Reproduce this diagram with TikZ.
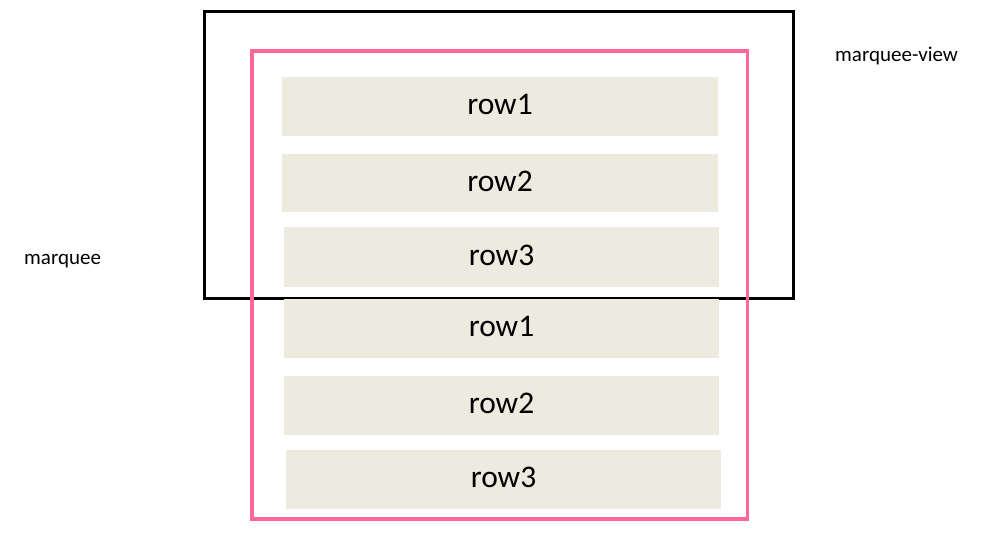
\documentclass[tikz,border=0pt]{standalone}
\usepackage{fontspec}
\setmainfont{Carlito}
\definecolor{rowfill}{HTML}{EDEAE0}
\definecolor{pinkline}{HTML}{FF6699}
\begin{document}
\begin{tikzpicture}[x=1pt,y=-1pt,
  rowtext/.style={inner sep=0pt,font=\fontsize{31.5}{36}\selectfont},
  lbl/.style={inner sep=0pt,font=\fontsize{21}{24}\selectfont,anchor=west}]
\useasboundingbox (0,0) rectangle (981,535);
% black view box
\draw[line width=3.5pt] (204.5,11.5) rectangle (793.5,298.5);
% rows
\fill[rowfill] (282,77) rectangle (718,136);
\node[rowtext] (r1) at (500,104.5) {row1};
\fill[rowfill] (282,154) rectangle (718,212);
\node[rowtext] (r2) at (500,181) {row2};
\fill[rowfill] (284,227) rectangle (719,287);
\node[rowtext] (r3) at (501.5,255) {row3};
\fill[rowfill] (284,299) rectangle (719,358);
\node[rowtext] (r4) at (501.5,326.5) {row1};
\fill[rowfill] (284,376) rectangle (719,435);
\node[rowtext] (r5) at (501.5,403.5) {row2};
\fill[rowfill] (286,450) rectangle (721,509);
\node[rowtext] (r6) at (503.5,477.5) {row3};
% pink marquee box
\draw[pinkline,line width=3.5pt] (252,51) rectangle (747.5,519);
% labels
\node[lbl] (mv) at (835,56) {marquee-view};
\node[lbl] (mq) at (24,261.5) {marquee};
\end{tikzpicture}
\end{document}
